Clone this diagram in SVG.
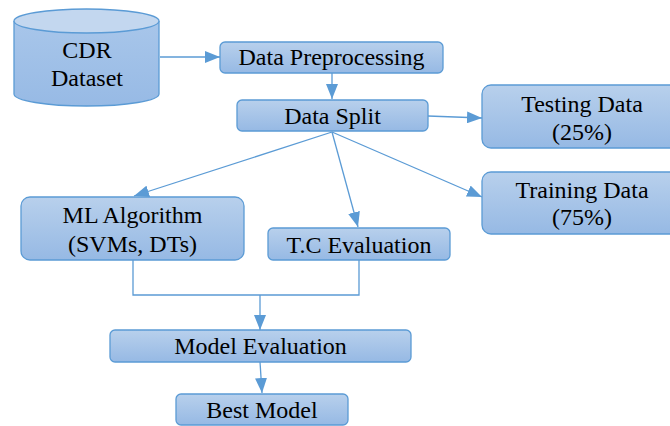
<svg xmlns="http://www.w3.org/2000/svg" width="670" height="426" viewBox="0 0 670 426">
<defs>
<linearGradient id="g" x1="0" y1="0" x2="0" y2="1">
<stop offset="0" stop-color="#b8d0ec"/>
<stop offset="1" stop-color="#96b9e4"/>
</linearGradient>
<linearGradient id="gc" x1="0" y1="0" x2="0" y2="1">
<stop offset="0" stop-color="#a8c6ea"/>
<stop offset="1" stop-color="#97bae5"/>
</linearGradient>
<marker id="ah" markerWidth="15" markerHeight="12" refX="15" refY="6" orient="auto" markerUnits="userSpaceOnUse">
<path d="M0,0 L15,6 L0,12 Z" fill="#5b9bd5"/>
</marker>
<style>
.box{fill:url(#g);stroke:#5b9bd5;stroke-width:1.3}
.t{font-size:24px;fill:#000;text-anchor:middle}
.c{fill:none;stroke:#5b9bd5;stroke-width:1.3}
</style>
</defs>
<g id="connectors">
<line class="c" x1="160" y1="57" x2="220" y2="57" marker-end="url(#ah)"/>
<line class="c" x1="332" y1="73" x2="332" y2="99" marker-end="url(#ah)"/>
<line class="c" x1="428" y1="116" x2="482" y2="118" marker-end="url(#ah)"/>
<line class="c" x1="332" y1="132" x2="134" y2="196" marker-end="url(#ah)"/>
<line class="c" x1="332" y1="132" x2="358" y2="227" marker-end="url(#ah)"/>
<line class="c" x1="332" y1="132" x2="482" y2="197" marker-end="url(#ah)"/>
<polyline class="c" points="133,260 133,295 359,295 359,260"/>
<line class="c" x1="260" y1="295" x2="260" y2="330" marker-end="url(#ah)"/>
<line class="c" x1="260" y1="362" x2="262" y2="393" marker-end="url(#ah)"/>
</g>
<g font-family="'Liberation Serif', 'DejaVu Serif', serif">
<g id="cdr">
<path d="M14,21 L14,94 A72.5,12 0 0 0 159,94 L159,21" fill="url(#gc)" stroke="#5b9bd5" stroke-width="1.3"/>
<ellipse cx="86.5" cy="21" rx="72.5" ry="12" fill="#c3d7ef" stroke="#5b9bd5" stroke-width="1.3"/>
<text class="t" x="87" y="58">CDR</text>
<text class="t" x="87" y="86">Dataset</text>
</g>
<g id="preprocessing">
<rect class="box" x="220" y="42" width="223" height="31" rx="5"/>
<text class="t" x="331.5" y="65">Data Preprocessing</text>
</g>
<g id="split">
<rect class="box" x="237" y="100" width="191" height="31" rx="5"/>
<text class="t" x="332.5" y="124">Data Split</text>
</g>
<g id="testing">
<rect class="box" x="482" y="85" width="200" height="63" rx="9"/>
<text class="t" x="582" y="112">Testing Data</text>
<text class="t" x="582" y="140">(25%)</text>
</g>
<g id="training">
<rect class="box" x="482" y="172" width="200" height="62" rx="9"/>
<text class="t" x="582" y="198">Training Data</text>
<text class="t" x="582" y="225">(75%)</text>
</g>
<g id="ml">
<rect class="box" x="21" y="197" width="223" height="63" rx="9"/>
<text class="t" x="132.5" y="223">ML Algorithm</text>
<text class="t" x="132.5" y="252">(SVMs, DTs)</text>
</g>
<g id="tc">
<rect class="box" x="268" y="228" width="182" height="32" rx="5"/>
<text class="t" x="359" y="253">T.C Evaluation</text>
</g>
<g id="model-eval">
<rect class="box" x="110" y="330" width="301" height="32" rx="5"/>
<text class="t" x="260.5" y="354">Model Evaluation</text>
</g>
<g id="best">
<rect class="box" x="176" y="394" width="172" height="31" rx="5"/>
<text class="t" x="262" y="418">Best Model</text>
</g>
</g>
</svg>
